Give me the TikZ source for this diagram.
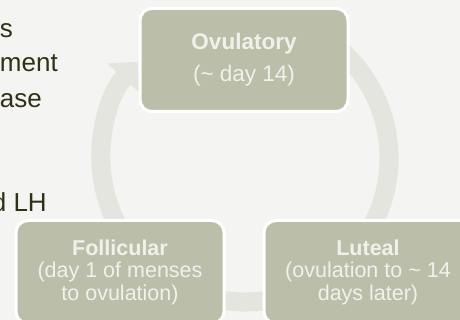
\documentclass[tikz,border=0pt]{standalone}
\usepackage{fontspec}
\setmainfont{Liberation Sans}
\usetikzlibrary{positioning, calc}
\usetikzlibrary{arrows.meta}
\definecolor{sfondo}{RGB}{244,244,242}
\definecolor{anello}{RGB}{228,229,223}
\definecolor{oliva}{RGB}{187,191,170}
\definecolor{testo}{RGB}{241,241,236}
\definecolor{scuro}{RGB}{48,48,22}

\begin{document}
\begin{tikzpicture}[x=1pt,y=-1pt, line cap=round, >=Stealth,
    fase/.style={draw=white, line width=3pt, fill=oliva, rounded corners=12pt,
      minimum width=208pt, minimum height=103pt, align=center, text=testo},
    elenco/.style={anchor=base east, text=scuro, font=\fontsize{26}{30}\selectfont, inner sep=0pt}]

  %--- sfondo
  \fill[sfondo] (0,0) rectangle (460,320);
  \useasboundingbox (0,0) rectangle (460,320);

  %--- testo a sinistra (tagliato)
  \node[elenco] (r1) at (13,38) {ts};
  \node[elenco] (r2) at (58,72) {ment};
  \node[elenco] (r3) at (42,108) {ase};
  \node[elenco] (r4) at (47,212) {d LH};

  %--- anello con freccia
  \coordinate (c) at (245,158);
  \draw[anello, line width=19pt, line cap=butt,
        -{Triangle[width=42pt,length=22pt]}]
    (c) ++(-70:144) arc[start angle=-70, end angle=222, radius=144];

  %--- fasi
  \node[fase, font=\fontsize{22.5}{32}\selectfont] (ovu) at (244,60)
    {\textbf{Ovulatory}\\(\char`\~{} day 14)};
  \node[fase, font=\fontsize{21.5}{22.5}\selectfont] (fol) at (120,272)
    {\textbf{Follicular}\\(day 1 of menses\\to ovulation)};
  \node[fase, font=\fontsize{21.5}{22.5}\selectfont] (lut) at (368,272)
    {\textbf{Luteal}\\(ovulation to \char`\~{} 14\\days later)};
\end{tikzpicture}
\end{document}
